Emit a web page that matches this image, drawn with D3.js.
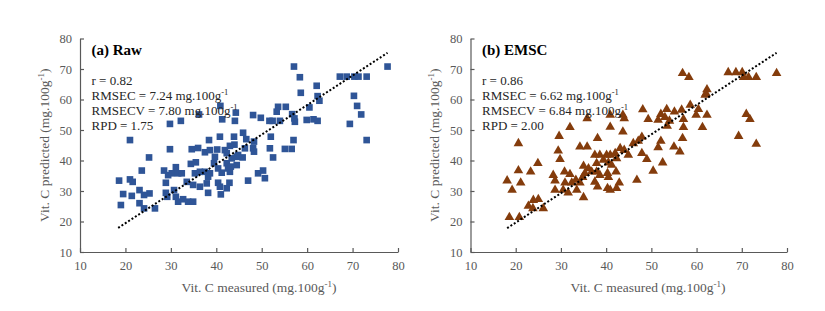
<!DOCTYPE html>
<html>
<head>
<meta charset="utf-8">
<script src="https://cdn.jsdelivr.net/npm/d3@7"></script>
<style>
  html, body { margin: 0; padding: 0; background: #fff; }
  svg { display: block; }
  text { font-family: "Liberation Serif", "Times New Roman", serif; }
</style>
</head>
<body>
<svg id="chart" width="825" height="311"></svg>
<script>
// ---------- DATA ----------
const xTicks = [10, 20, 30, 40, 50, 60, 70, 80];
const yTicks = [10, 20, 30, 40, 50, 60, 70, 80];

const panelTitles = ["(a) Raw", "(b) EMSC"];
const statR = ["0.82", "0.86"];
const statRMSEC = ["7.24", "6.62"];
const statRMSECV = ["7.80", "6.84"];
const statRPD = ["1.75", "2.00"];

const xAxisTitle = "Vit. C measured (mg.100g";
const yAxisTitle = "Vit. C predicted (mg.100g";

// Raw model: measured (x) and predicted (y)
const rawMeasured = [
  21.0,25.2,29.8,32.2,29.8,36.2,34.6,36.0,38.4,40.9,41.3,44.3,44.1,40.8,43.9,44.0,45.9,46.6,46.3,37.5,
  38.6,40.2,41.9,43.0,39.7,44.5,43.4,42.3,34.4,35.5,39.5,40.4,41.2,42.3,42.6,43.0,44.5,23.6,28.5,29.4,
  30.2,28.9,31.1,31.6,32.4,35.3,36.4,37.5,38.2,38.6,21.0,21.6,18.6,33.5,34.9,36.4,37.9,40.4,40.8,42.9,
  42.3,38.2,41.0,23.1,25.3,24.1,19.5,21.4,28.9,30.7,29.2,31.1,31.6,32.7,33.8,34.9,19.0,23.1,24.1,26.5,
  57.1,58.4,62.1,58.6,62.3,62.7,60.5,67.2,68.7,70.4,71.3,73.1,77.7,70.3,71.0,71.9,69.4,73.1,55.3,53.6,
  53.3,48.1,49.8,51.7,52.4,54.0,56.7,57.2,57.3,59.9,61.4,62.3,48.3,52.0,57.0,51.8,55.1,56.6,48.1,48.3,
  44.8,45.8,52.5,43.2,49.2,50.3,50.7,47.0
];
const rawPredicted = [
  46.7,41.0,52.0,53.0,43.7,55.1,43.7,44.1,46.7,57.9,53.5,55.7,53.0,47.8,47.8,45.2,49.1,47.0,44.0,42.7,
  43.4,43.6,43.4,44.8,41.2,41.2,40.7,42.4,38.9,39.4,39.1,37.4,36.0,39.1,37.4,36.3,38.5,36.7,36.7,35.2,
  35.8,32.7,37.8,35.8,35.8,35.8,36.3,36.3,34.7,35.8,33.8,33.0,33.4,33.0,32.0,31.4,32.5,32.7,31.4,32.7,
  30.9,29.4,28.9,30.3,29.2,28.7,29.0,28.4,29.4,30.3,28.1,28.1,26.5,27.3,26.5,26.5,25.4,26.0,24.3,24.3,
  70.8,67.3,64.5,62.2,61.1,59.6,57.4,67.5,67.5,67.5,67.5,67.5,70.8,61.2,57.9,55.1,52.0,46.7,57.6,57.6,
  56.0,54.9,54.0,53.0,53.0,53.0,55.2,53.8,52.7,53.3,53.5,53.0,46.2,47.8,46.7,44.0,43.8,43.8,44.0,42.9,
  41.8,41.0,41.0,38.0,35.8,36.7,34.2,33.4
];

// EMSC model: measured (x) and predicted (y)
const emscMeasured = [
  35.8,32.0,29.6,20.6,38.1,40.9,40.9,43.7,44.0,43.7,48.1,49.3,47.9,34.2,35.8,29.4,46.0,47.1,56.9,58.3,
  67.0,68.7,70.1,70.4,71.5,73.2,77.7,62.3,62.1,61.9,58.6,60.4,59.9,62.3,53.4,55.1,56.7,52.1,51.5,53.0,
  54.0,57.1,57.1,53.5,61.3,71.0,71.8,56.9,69.3,73.2,52.1,51.5,55.0,56.3,47.9,49.0,52.5,50.4,29.8,24.9,
  20.6,23.3,18.1,21.1,19.2,28.3,28.7,30.8,32.0,35.0,37.5,38.6,40.1,40.9,42.0,43.1,44.0,44.9,37.9,39.4,
  40.5,41.2,42.3,36.1,36.8,35.3,34.8,37.9,38.6,40.3,42.2,42.9,40.5,33.3,34.2,32.4,30.9,37.5,38.1,28.7,
  30.5,31.6,33.5,40.3,40.9,42.3,46.8,35.0,23.9,25.0,22.8,23.8,26.1,18.6,20.8
];
const emscPredicted = [
  53.8,50.9,48.0,45.6,47.3,51.0,54.9,54.9,53.8,49.4,56.7,53.5,47.7,44.5,44.5,43.2,45.6,46.4,68.6,67.3,
  68.9,68.9,68.9,67.3,67.3,67.3,68.6,63.3,62.0,61.5,58.2,56.8,54.9,54.9,56.8,56.0,56.6,55.2,53.3,54.2,
  53.0,53.5,50.9,51.3,50.9,55.2,53.5,47.3,48.0,45.4,46.4,44.3,44.5,42.9,42.4,40.4,39.3,36.6,40.4,39.1,
  36.7,36.3,33.4,32.7,30.3,35.2,33.4,36.3,35.5,38.2,41.8,41.8,41.8,41.8,42.4,44.0,43.4,41.8,39.1,40.2,
  39.3,38.5,40.7,37.4,36.3,35.8,34.5,36.3,35.2,35.8,36.3,32.7,34.5,33.6,32.7,32.7,32.7,33.0,31.4,30.3,
  30.3,29.4,30.3,30.9,30.3,30.9,33.6,27.9,27.0,27.3,25.1,24.3,24.3,21.4,21.4
];

// dotted trend lines (measured, predicted endpoints)
const rawLineX = [18.4, 77.7];
const rawLineY = [17.9, 75.3];
const emscLineX = [18.1, 77.7];
const emscLineY = [17.8, 75.3];

// ---------- DRAW ----------
const svg = d3.select("#chart");
const axisColor = "#595959";
const labelColor = "#595959";

const panels = [
  { left: 80, right: 398, xs: rawMeasured, ys: rawPredicted, lx: rawLineX, ly: rawLineY,
    color: "#2F5597", shape: d3.symbolSquare, size: 44, yTitleX: 49, xTitleX: 259 },
  { left: 470.5, right: 787, xs: emscMeasured, ys: emscPredicted, lx: emscLineX, ly: emscLineY,
    color: "#843C0C", shape: d3.symbolTriangle, size: 40, yTitleX: 439, xTitleX: 648 }
];
const plotTop = 38.5, plotBottom = 252;

panels.forEach((p, i) => {
  const x = d3.scaleLinear().domain([10, 80]).range([p.left, p.right]);
  const y = d3.scaleLinear().domain([10, 80]).range([plotBottom, plotTop]);
  const g = svg.append("g");

  // axes
  const xAxis = d3.axisBottom(x).tickValues(xTicks).tickSizeInner(-4).tickSizeOuter(0).tickPadding(9);
  const yAxis = d3.axisLeft(y).tickValues(yTicks).tickSizeInner(-4).tickSizeOuter(0).tickPadding(8);
  const gx = g.append("g").attr("transform", `translate(0,${plotBottom})`).call(xAxis);
  const gy = g.append("g").attr("transform", `translate(${p.left},0)`).call(yAxis);
  [gx, gy].forEach(a => {
    a.select(".domain").attr("stroke", axisColor).attr("stroke-width", 1.2);
    a.selectAll(".tick line").attr("stroke", axisColor).attr("stroke-width", 1.2);
    a.selectAll(".tick text").attr("fill", labelColor)
      .style("font-family", '"Liberation Serif", serif').style("font-size", "12.5px");
  });

  // markers
  const sym = d3.symbol().type(p.shape).size(p.size);
  g.append("g").selectAll("path").data(p.xs.map((v, k) => [v, p.ys[k]]))
    .join("path")
    .attr("d", sym)
    .attr("transform", d => `translate(${x(d[0])},${y(d[1])})`)
    .attr("fill", p.color);

  // dotted line on top
  g.append("line")
    .attr("x1", x(p.lx[0])).attr("y1", y(p.ly[0]))
    .attr("x2", x(p.lx[1])).attr("y2", y(p.ly[1]))
    .attr("stroke", "#000").attr("stroke-width", 2)
    .attr("stroke-dasharray", "2 2");

  // panel title
  g.append("text").attr("x", p.left + 11.5).attr("y", 55)
    .attr("fill", "#000").style("font-size", "15px").style("font-weight", "bold")
    .text(panelTitles[i]);

  // statistics
  const sx = p.left + 11.5;
  const stats = [
    ["r = " + statR[i], false],
    ["RMSEC = " + statRMSEC[i] + " mg.100g", true],
    ["RMSECV = " + statRMSECV[i] + " mg.100g", true],
    ["RPD = " + statRPD[i], false]
  ];
  stats.forEach((s, k) => {
    const t = g.append("text").attr("x", sx).attr("y", 85 + k * 15)
      .attr("fill", "#262626").style("font-size", "13px");
    t.append("tspan").text(s[0]);
    if (s[1]) {
      t.append("tspan").attr("dy", -5).style("font-size", "8.5px").text("-1");
    }
  });

  // x axis title
  const xt = g.append("text").attr("x", p.xTitleX).attr("y", 292)
    .attr("text-anchor", "middle").attr("fill", labelColor).style("font-size", "13.5px");
  xt.append("tspan").text(xAxisTitle);
  xt.append("tspan").attr("dy", -5).style("font-size", "9px").text("-1");
  xt.append("tspan").attr("dy", 5).text(")");

  // y axis title
  const yt = g.append("text")
    .attr("transform", `translate(${p.yTitleX},${(plotTop + plotBottom) / 2}) rotate(-90)`)
    .attr("text-anchor", "middle").attr("fill", labelColor).style("font-size", "13.5px");
  yt.append("tspan").text(yAxisTitle);
  yt.append("tspan").attr("dy", -5).style("font-size", "9px").text("-1");
  yt.append("tspan").attr("dy", 5).text(")");
});
</script>
</body>
</html>
